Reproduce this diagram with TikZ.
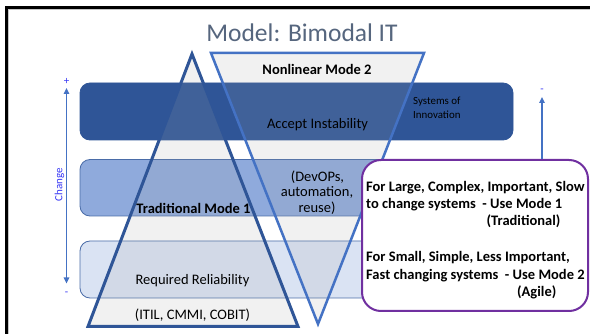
\documentclass[tikz,border=0pt]{standalone}
\usepackage{fontspec}
\setmainfont{Carlito}
\usetikzlibrary{arrows.meta}

\definecolor{bandDark}{HTML}{2F5597}
\definecolor{bandMid}{HTML}{8FAADC}
\definecolor{bandLight}{HTML}{DAE3F3}
\definecolor{bandEdge}{HTML}{4A6CA8}
\definecolor{triEdge}{HTML}{2F5597}
\definecolor{veeEdge}{HTML}{4472C4}
\definecolor{shadeGray}{HTML}{A6A6A6}
\definecolor{titleGray}{HTML}{56667E}
\definecolor{adviceEdge}{HTML}{7030A0}
\definecolor{markBlue}{HTML}{3535F5}
\definecolor{arrowBlue}{HTML}{4472C4}

\newcommand\bmBody{\fontsize{14.5}{17.5}\selectfont}
\newcommand\bmSmall{\fontsize{10.9}{13}\selectfont}

\tikzset{
  band/.style={rounded corners=10pt, line width=0.8pt, inner sep=0pt, outer sep=0pt,
    minimum width=433pt, anchor=north west},
  txt/.style={inner sep=0pt, anchor=base, font=\bmBody},
  btxt/.style={inner sep=0pt, anchor=base west, font=\bmBody\bfseries},
  smallTxt/.style={inner sep=0pt, anchor=base west, font=\bmSmall},
  markTxt/.style={inner sep=0pt, text=markBlue, font=\fontsize{11}{12}\selectfont},
  scale arrow/.style={draw=arrowBlue, line width=1.4pt, >={Triangle[length=6pt,width=5.5pt]}},
}

\begin{document}
\begin{tikzpicture}[x=1pt,y=-1pt]
\useasboundingbox (0,0) rectangle (590,334);
\fill[white] (0,0) rectangle (590,334);

% slide frame
\draw[gray!45, line width=0.8pt] (8.6,334) -- (8.6,9.6) -- (590,9.6);
\draw[black, line width=3pt] (6.5,334) -- (6.5,7.5) -- (590,7.5);

% title
\node[inner sep=0pt, anchor=base, text=titleGray, font=\fontsize{25.5}{30}\selectfont]
  (title) at (302,41.7) {Model: Bimodal IT};

% horizontal bands
\node[band, fill=bandDark, draw=bandDark, minimum height=57pt] (topband) at (80,83) {};
\node[band, fill=bandMid, draw=bandEdge, minimum height=56.5pt] (midband) at (80,159.5) {};
\node[band, fill=bandLight, draw=bandEdge, minimum height=57pt] (lowband) at (80,241) {};

% Mode 1 pyramid
\coordinate (triTop) at (192,54);
\coordinate (triLeft) at (88,326.5);
\coordinate (triRight) at (298,326.5);
\fill[shadeGray, fill opacity=0.15] (triTop) -- (triRight) -- (triLeft) -- cycle;
\draw[triEdge, line width=3pt, line join=miter] (triTop) -- (triRight) -- (triLeft) -- cycle;

% Mode 2 inverted pyramid
\coordinate (veeLeft) at (211,53);
\coordinate (veeRight) at (424,53);
\coordinate (veeTip) at (318,324);
\fill[shadeGray, fill opacity=0.15] (veeLeft) -- (veeRight) -- (veeTip) -- cycle;
\draw[veeEdge, line width=2.5pt, line join=miter] (veeLeft) -- (veeRight) -- (veeTip) -- cycle;

% labels inside the shapes
\node[txt, font=\bmBody\bfseries] (nonlinear) at (317,75) {Nonlinear Mode 2};
\node[txt] (accept) at (317.5,128.3) {Accept Instability};
\node[smallTxt] (sys1) at (413,105) {Systems of};
\node[smallTxt] (sys2) at (413,118.5) {Innovation};
\node[txt] (devops1) at (317.5,181.5) {(DevOPs,};
\node[txt] (devops2) at (317,197) {automation,};
\node[txt] (devops3) at (317,212.5) {reuse)};
\node[txt, font=\bmBody\bfseries] (trad) at (193.5,213.3) {Traditional Mode 1};
\node[txt] (reliab) at (192.5,285) {Required Reliability};
\node[txt] (itil) at (192.5,319.3) {(ITIL, CMMI, COBIT)};

% change scale on the left
\coordinate (chgTop) at (66.5,88);
\coordinate (chgBot) at (66.5,283.5);
\draw[scale arrow, <->] (chgTop) -- (chgBot);
\node[markTxt] (plusL) at (66.5,81) {+};
\node[markTxt] (minusL) at (66.5,294) {-};
\node[inner sep=0pt, text=markBlue, font=\fontsize{11}{12}\selectfont, rotate=90]
  (change) at (59.5,185) {Change};

% advice box
\node[draw=adviceEdge, fill=white, line width=2pt, rounded corners=19pt,
      minimum width=226pt, minimum height=151pt, anchor=north west, inner sep=0pt]
  (advice) at (361,159) {};
\node[btxt] (adv1) at (366,191.7) {For Large, Complex, Important, Slow};
\node[btxt] (adv2) at (366,208.6) {to change systems \ - Use Mode 1};
\node[btxt, anchor=base east] (adv3) at (560.5,226) {(Traditional)};
\node[btxt] (adv4) at (366,261.7) {For Small, Simple, Less Important,};
\node[btxt] (adv5) at (366,279.2) {Fast changing systems \ - Use Mode 2};
\node[btxt, anchor=base east] (adv6) at (556.5,296.7) {(Agile)};

% scale on the right
\coordinate (rTip) at (542,97);
\draw[scale arrow, ->] (advice.north -| rTip) -- (rTip);
\node[markTxt] (minusR) at (542,90.5) {-};
\end{tikzpicture}
\end{document}
